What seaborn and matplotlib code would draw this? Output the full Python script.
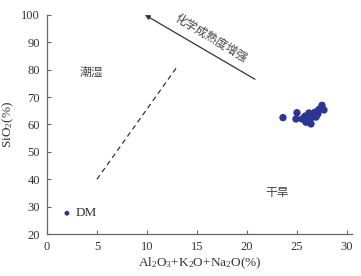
import numpy as np
import pandas as pd

import matplotlib
matplotlib.use("Agg")
import matplotlib.pyplot as plt
import seaborn as sns

# sample composition (wt %)
oxide_sum = [23.6, 25.0, 24.9, 25.5, 25.9, 26.4, 26.0, 26.2, 26.4, 26.6, 26.1,
             26.3, 26.8, 27.0, 27.2, 27.5, 27.7, 26.9, 27.1, 26.5, 26.2, 25.8]
sio2 = [62.5, 64.3, 62.0, 62.0, 60.8, 60.2, 63.2, 64.2, 63.7, 62.8, 62.4,
        61.8, 64.5, 63.4, 65.5, 67.0, 65.3, 62.7, 64.0, 63.0, 63.5, 63.0]

# DM reference point
dm_x = [2.0]
dm_y = [27.6]

# guide lines
dash_x = [5.0, 13.0]
dash_y = [40.0, 81.0]
arrow_tail = (20.8, 76.5)
arrow_head = (9.8, 100.0)

x_ticks = [0, 5, 10, 15, 20, 25, 30]
y_ticks = [20, 30, 40, 50, 60, 70, 80, 90, 100]

sns.set_style("ticks")
plt.rcParams["font.family"] = ["Liberation Serif", "DejaVu Sans"]
plt.rcParams["mathtext.fontset"] = "custom"
plt.rcParams["mathtext.rm"] = "Liberation Serif"
plt.rcParams["mathtext.default"] = "regular"

dot_color = "#2b3694"
text_color = "#333333"
cjk = ["Noto Sans CJK SC", "DejaVu Sans"]
cjk_style = dict(fontsize=8.5, color="#444444", family=cjk,
                 fontweight="light", ha="center", va="center")

fig = plt.figure(figsize=(3.61, 2.76), dpi=100)
ax = fig.add_axes([0.130, 0.152, 0.845, 0.794])

df = pd.DataFrame({"x": oxide_sum, "y": sio2})
sns.scatterplot(data=df, x="x", y="y", ax=ax, color=dot_color,
                s=28, edgecolor="none")
sns.scatterplot(x=dm_x, y=dm_y, ax=ax, color=dot_color, s=12,
                edgecolor="none")

ax.plot(dash_x, dash_y, ls=(0, (4, 3)), color="#333333", lw=0.9)
ax.annotate("", xy=arrow_head, xytext=arrow_tail,
            arrowprops=dict(arrowstyle="-|>", color="#333333", lw=0.9,
                            mutation_scale=7, shrinkA=0, shrinkB=0),
            annotation_clip=False)

ax.text(16.4, 91.6, "化学成熟度增强", rotation=-31, **cjk_style)
ax.text(4.4, 79, "潮湿", **cjk_style)
ax.text(23.0, 35, "干旱", **cjk_style)
ax.text(2.9, 27.6, "DM", ha="left", va="center", fontsize=9.5,
        color=text_color)

ax.set_xlim(0, 30.5)
ax.set_ylim(20, 100)
ax.set_xticks(x_ticks)
ax.set_yticks(y_ticks)

ax.set_xlabel(r"Al$_2$O$_3$+K$_2$O+Na$_2$O(%)", fontsize=9.5,
              color=text_color, labelpad=2)
ax.set_ylabel(r"SiO$_2$(%)", fontsize=9.5, color=text_color, labelpad=4)

ax.tick_params(direction="in", length=3, width=0.8, labelsize=9,
               colors="#666666", labelcolor=text_color, pad=5)
for side in ["top", "right"]:
    ax.spines[side].set_visible(False)
for side in ["left", "bottom"]:
    ax.spines[side].set_color("#666666")
    ax.spines[side].set_linewidth(0.9)

fig.savefig("out.png", dpi=100)
